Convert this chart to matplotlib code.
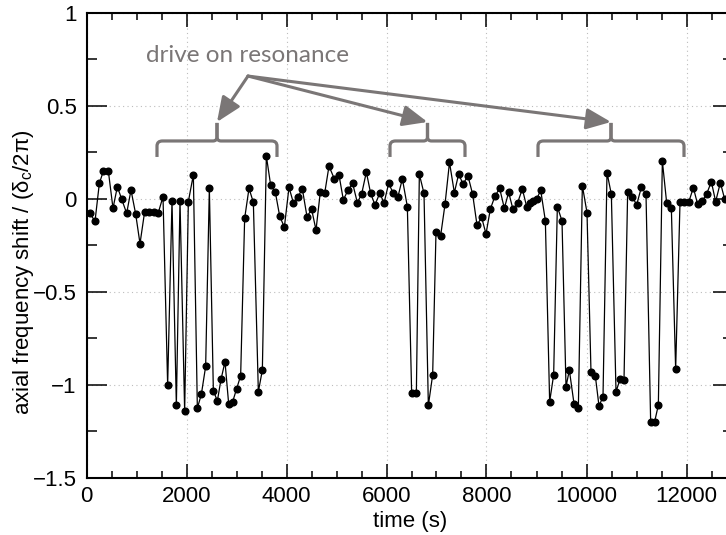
import matplotlib
matplotlib.use("Agg")
import matplotlib.pyplot as plt
from matplotlib.path import Path
from matplotlib.patches import PathPatch
from matplotlib.ticker import MultipleLocator

plt.rcParams['font.family'] = ['Liberation Sans', 'DejaVu Sans']
plt.rcParams['mathtext.default'] = 'regular'

# measured axial frequency shift vs. time
time_s = [70, 170, 257, 337, 437, 530, 617, 703, 803, 890, 983, 1070, 1163, 1250,
          1343, 1437, 1530, 1623, 1710, 1797, 1870, 1963, 2037, 2137, 2217, 2297,
          2383, 2457, 2537, 2617, 2690, 2770, 2843, 2923, 3003, 3083, 3163, 3250,
          3337, 3437, 3517, 3597, 3683, 3777, 3863, 3957, 4050, 4137, 4223, 4317,
          4410, 4503, 4590, 4677, 4763, 4850, 4957, 5050, 5137, 5230, 5323, 5417,
          5503, 5597, 5683, 5770, 5863, 5953, 6043, 6137, 6230, 6317, 6417, 6503,
          6597, 6657, 6750, 6837, 6923, 6990, 7083, 7170, 7260, 7357, 7443, 7530,
          7630, 7723, 7810, 7903, 7990, 8077, 8170, 8263, 8357, 8443, 8530, 8623,
          8717, 8803, 8870, 8937, 9003, 9083, 9177, 9263, 9343, 9417, 9510, 9590,
          9657, 9750, 9837, 9917, 10010, 10090, 10177, 10250, 10330, 10410, 10497,
          10590, 10670, 10750, 10823, 10917, 11003, 11097, 11190, 11283, 11363,
          11437, 11517, 11603, 11697, 11783, 11870, 11957, 12043, 12137, 12223,
          12317, 12403, 12497, 12583, 12677, 12763]
shift = [-0.077, -0.12, 0.084, 0.15, 0.15, -0.05, 0.066, 0.0, -0.077, 0.048, -0.08,
         -0.24, -0.068, -0.068, -0.068, -0.073, 0.013, -1.0, -0.01, -1.11, -0.01,
         -1.14, -0.014, 0.13, -1.125, -1.05, -0.90, 0.057, -1.03, -1.086, -0.97,
         -0.875, -1.10, -1.09, -1.02, -0.95, -0.104, 0.057, -0.018, -1.036, -0.92,
         0.231, 0.075, 0.036, -0.091, -0.152, 0.063, -0.02, 0.009, 0.054, -0.095,
         -0.056, -0.167, 0.039, 0.03, 0.177, 0.108, 0.129, -0.005, 0.048, 0.084,
         -0.02, 0.027, 0.145, 0.03, -0.032, 0.03, -0.02, 0.084, 0.03, 0.013, 0.109,
         -0.041, -1.045, -1.045, 0.133, 0.03, -1.11, -0.946, -0.176, -0.197, -0.029,
         0.197, 0.034, 0.134, 0.081, 0.124, 0.025, -0.14, -0.099, -0.188, -0.054,
         0.016, 0.057, -0.05, 0.036, -0.056, -0.02, 0.054, -0.041, -0.023, -0.011,
         -0.002, 0.048, -0.116, -1.09, -0.946, -0.041, -0.118, -1.009, -0.92, -1.10,
         -1.125, 0.072, -0.073, -0.932, -0.952, -1.113, -1.063, 0.142, 0.025,
         -1.036, -0.97, -0.973, 0.036, 0.013, -0.032, 0.063, 0.027, -1.197, -1.197,
         -1.108, 0.204, -0.02, -0.05, -0.916, -0.018, -0.018, -0.018, 0.061, -0.029,
         -0.011, 0.027, 0.093, -0.014, 0.088, 0.0]

# time windows where the drive was on resonance
drive_windows = [(1410, 3810), (6070, 7570), (9030, 11950)]

x_ticks = [0, 2000, 4000, 6000, 8000, 10000, 12000]
x_tick_labels = ['0', '2000', '4000', '6000', '8000', '10000', '12000']
y_ticks = [-1.5, -1.0, -0.5, 0.0, 0.5, 1.0]
y_tick_labels = ['\u22121.5', '\u22121', '\u22120.5', '0', '0.5', '1']

GRAY = '#7a7676'

fig = plt.figure(figsize=(7.26, 5.35), dpi=100)
ax = fig.add_axes([86.5 / 726, (535 - 478) / 535, (733 - 86.5) / 726, (478 - 13) / 535])

ax.plot(time_s, shift, color='black', lw=0.9, marker='o', ms=4.8,
        mfc='black', mec='black', zorder=3)

ax.set_xlim(0, 12930)
ax.set_ylim(-1.5, 1.0)
ax.set_xticks(x_ticks)
ax.set_xticklabels(x_tick_labels)
ax.set_yticks(y_ticks)
ax.set_yticklabels(y_tick_labels)
ax.xaxis.set_minor_locator(MultipleLocator(500))
ax.yaxis.set_minor_locator(MultipleLocator(0.25))

ax.grid(True, which='major', linestyle=(0, (1, 3)), color='#bdbdbd', lw=0.8, zorder=0)
ax.tick_params(axis='x', which='major', direction='in', length=10, width=1.1,
               top=True, labelsize=16, pad=6)
ax.tick_params(axis='x', which='minor', direction='in', length=5, width=1.1, top=True)
ax.tick_params(axis='y', which='major', direction='in', length=14.4, width=1.1,
               right=True, labelsize=16, pad=7)
ax.tick_params(axis='y', which='minor', direction='in', length=7.2, width=1.1, right=True)
for sp in ax.spines.values():
    sp.set_linewidth(1.5)

ax.set_xlabel('time (s)', fontsize=16, labelpad=3)
ax.set_ylabel(r'axial frequency shift / ($\delta_c$/2$\pi$)', fontsize=16)
ax.yaxis.set_label_coords(-0.078, 0.443)

# curly brackets over the drive windows
y_h, y_low, y_top = 0.312, 0.226, 0.409
rx, ry = 110, 0.027
sx, sy = 80, 0.022
for x1, x2 in drive_windows:
    xc = 0.5 * (x1 + x2)
    for xa, sgn in ((x1, 1), (x2, -1)):
        verts = [(xa, y_low), (xa, y_h - ry), (xa, y_h), (xa + sgn * rx, y_h),
                 (xc - sgn * sx, y_h), (xc, y_h), (xc, y_h + sy), (xc, y_top)]
        codes = [Path.MOVETO, Path.LINETO, Path.CURVE3, Path.CURVE3,
                 Path.LINETO, Path.CURVE3, Path.CURVE3, Path.LINETO]
        ax.add_patch(PathPatch(Path(verts, codes), fill=False, edgecolor=GRAY,
                               lw=2.3, capstyle='butt', joinstyle='round', zorder=4))
    ax.annotate('', xy=(xc, y_top + 0.005), xytext=(3230, 0.661),
                arrowprops=dict(arrowstyle='-|>,head_length=0.75,head_width=0.32',
                                mutation_scale=20, lw=2.2, color=GRAY,
                                shrinkA=0, shrinkB=0), zorder=4)

ax.text(3210, 0.774, 'drive on resonance', color=GRAY, fontsize=17.5,
        family=['Lato', 'DejaVu Sans'], ha='center', va='center')

fig.savefig('out.png', dpi=100)
